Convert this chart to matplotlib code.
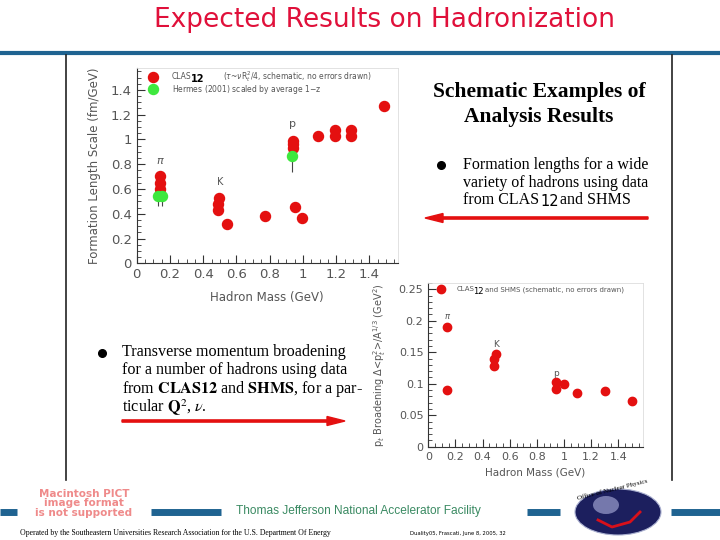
import matplotlib
matplotlib.use('Agg')
import matplotlib.pyplot as plt
from matplotlib.patches import Ellipse, FancyArrow

# --- formation length plot (top left) ---
clas_mass = [0.14, 0.14, 0.14, 0.14, 0.497, 0.49, 0.49, 0.546, 0.774, 0.952, 0.994,
             0.94, 0.94, 0.94, 1.09, 1.19, 1.19, 1.29, 1.29, 1.49]
clas_len = [0.705, 0.651, 0.603, 0.56, 0.53, 0.479, 0.43, 0.315, 0.382, 0.457, 0.364,
            0.99, 0.96, 0.934, 1.028, 1.08, 1.028, 1.08, 1.028, 1.27]
hermes_mass = [0.13, 0.15, 0.934]
hermes_len = [0.546, 0.546, 0.869]
hermes_err = [0.08, 0.08, 0.13]

# --- pt broadening plot (bottom right) ---
pt_mass = [0.14, 0.14, 0.499, 0.486, 0.486, 0.941, 0.941, 1.002, 1.098, 1.302, 1.501]
pt_broad = [0.19, 0.09, 0.147, 0.139, 0.128, 0.103, 0.0916, 0.0995, 0.0847, 0.0884, 0.0725]

mass_ticks = [0, 0.2, 0.4, 0.6, 0.8, 1.0, 1.2, 1.4]
mass_ticklabels = ['0', '0.2', '0.4', '0.6', '0.8', '1', '1.2', '1.4']
len_ticks = [0, 0.2, 0.4, 0.6, 0.8, 1.0, 1.2, 1.4]
len_ticklabels = ['0', '0.2', '0.4', '0.6', '0.8', '1', '1.2', '1.4']
pt_ticks = [0, 0.05, 0.1, 0.15, 0.2, 0.25]
pt_ticklabels = ['0', '0.05', '0.1', '0.15', '0.2', '0.25']

RED = '#e41010'
GREEN = '#3ee83e'
GREY = '#555555'
BLUE = '#1f6391'

W, H = 720, 540
fig = plt.figure(figsize=(7.2, 5.4), dpi=100)

# slide background drawn in pixel coordinates
bg = fig.add_axes([0, 0, 1, 1], zorder=0)
bg.set_xlim(0, W)
bg.set_ylim(H, 0)
bg.axis('off')

bg.text(385, 20, 'Expected Results on Hadronization', color='#e0103a',
        fontsize=19, ha='center', va='center', family='DejaVu Sans')
bg.plot([0, W], [53, 53], color=BLUE, lw=3, solid_capstyle='butt')
bg.plot([66, 66], [55, 480], color='#222222', lw=1.2)
bg.plot([672, 672], [55, 480], color='#222222', lw=1.2)

# right hand text block
bg.text(539, 92, 'Schematic Examples of', family='Liberation Serif', weight='bold',
        fontsize=15.5, ha='center', va='center')
bg.text(539, 117, 'Analysis Results', family='Liberation Serif', weight='bold',
        fontsize=15.5, ha='center', va='center')
bg.plot(441, 165, 'o', color='black', ms=5.5)
bg.text(463, 165, 'Formation lengths for a wide', family='Liberation Serif',
        fontsize=11.5, va='center')
bg.text(463, 183, 'variety of hadrons using data', family='Liberation Serif',
        fontsize=11.5, va='center')
bg.text(463, 200, 'from CLAS', family='Liberation Serif', fontsize=11.5, va='center')
bg.text(540, 201, '12', family='DejaVu Sans', fontsize=10.5, va='center')
bg.text(560, 200, 'and SHMS', family='Liberation Serif', fontsize=11.5, va='center')
bg.add_patch(FancyArrow(648, 218, -205, 0, width=2.2, head_width=9, head_length=18,
                        color=RED, length_includes_head=False))

# lower left text block
bg.plot(102, 353, 'o', color='black', ms=5.5)
lines = ['Transverse momentum broadening',
         'for a number of hadrons using data',
         r'from $\mathbf{CLAS12}$ and $\mathbf{SHMS}$, for a par-',
         r'ticular $\mathbf{Q}^2$, $\nu$.']
for i, ln in enumerate(lines):
    bg.text(122, 352 + i * 18.5, ln, family='Liberation Serif', fontsize=11.6,
            va='center', math_fontfamily='stix')
bg.add_patch(FancyArrow(122, 421, 205, 0, width=2.2, head_width=9, head_length=18,
                        color=RED, length_includes_head=False))

# footer
for x0, x1 in [(0, 17), (151, 221), (527, 560), (671, 720)]:
    bg.plot([x0, x1], [512, 512], color=BLUE, lw=5, solid_capstyle='butt')
for k, t in enumerate(['Macintosh PICT', 'image format', 'is not supported']):
    bg.text(84, 494 + k * 9.5, t, color='#ef8a8a', fontsize=7.5, weight='bold',
            ha='center', va='center', family='DejaVu Sans')
bg.text(358, 511, 'Thomas Jefferson National Accelerator Facility', color='#3a8a62',
        fontsize=8.6, ha='center', va='center', family='Liberation Sans')
bg.text(20, 533, 'Operated by the Southeastern Universities Research Association for the U.S. Department Of Energy',
        family='Liberation Serif', fontsize=5.6, va='center')
bg.text(410, 533, 'Duality05, Frascati, June 8, 2005, 32', family='DejaVu Sans',
        fontsize=3.8, va='center')
bg.add_patch(Ellipse((618, 512), 86, 46, facecolor='#1c1f5e', edgecolor='#aab0d0', lw=0.8))
bg.add_patch(Ellipse((606, 505), 26, 18, facecolor='#8c8fc0', edgecolor='none', alpha=0.8))
bg.plot([598, 612, 630, 640], [520, 527, 522, 512], color='#d8101a', lw=2)
bg.text(612, 490, 'Office of Nuclear Physics', fontsize=5, ha='center', va='center',
        rotation=14, family='Liberation Serif')

# formation length axes
ax1 = fig.add_axes([136.7 / W, 1 - 263.3 / H, 261 / W, 195.3 / H], zorder=2)
ax1.errorbar(hermes_mass, hermes_len, yerr=hermes_err, fmt='none', ecolor='#444444',
             elinewidth=0.8, zorder=2)
ax1.scatter(clas_mass, clas_len, s=52, color=RED, zorder=3)
ax1.scatter(hermes_mass, hermes_len, s=52, color=GREEN, zorder=4)
ax1.set_xlim(0, 1.57)
ax1.set_ylim(0, 1.577)
ax1.set_xticks(mass_ticks, mass_ticklabels)
ax1.set_yticks(len_ticks, len_ticklabels)
ax1.set_xlabel('Hadron Mass (GeV)', color=GREY, fontsize=8.5, labelpad=7)
ax1.set_ylabel('Formation Length Scale (fm/GeV)', color=GREY, fontsize=8.5, labelpad=7)
ax1.text(0.14, 0.8, r'$\pi$', color=GREY, fontsize=8, ha='center')
ax1.text(0.5, 0.63, 'K', color=GREY, fontsize=7, ha='center')
ax1.text(0.94, 1.1, 'p', color=GREY, fontsize=8, ha='center')
ax1.scatter([0.1], [1.506], s=52, color=RED)
ax1.scatter([0.1], [1.405], s=52, color=GREEN)
ax1.text(0.21, 1.506, 'CLAS', color=GREY, fontsize=5.5, va='center')
ax1.text(0.325, 1.49, '12', color='black', fontsize=7, weight='bold', va='center')
ax1.text(0.52, 1.506, r'($\tau$~$\nu$R$_t^2$/4, schematic, no errors drawn)', color=GREY,
         fontsize=5.5, va='center')
ax1.text(0.21, 1.405, 'Hermes (2001) scaled by average 1$-$z', color=GREY,
         fontsize=5.5, va='center')

# pt broadening axes
ax2 = fig.add_axes([428.3 / W, 1 - 446.7 / H, 214.4 / W, 163.7 / H], zorder=2)
ax2.scatter(pt_mass, pt_broad, s=36, color=RED, zorder=3)
ax2.set_xlim(0, 1.58)
ax2.set_ylim(0, 0.26)
ax2.set_xticks(mass_ticks, mass_ticklabels)
ax2.set_yticks(pt_ticks, pt_ticklabels)
ax2.set_xlabel('Hadron Mass (GeV)', color=GREY, fontsize=7.5, labelpad=4)
ax2.set_ylabel(r'p$_t$ Broadening $\Delta$<p$_t^2$>/A$^{1/3}$ (GeV$^2$)', color=GREY,
               fontsize=7, labelpad=8)
ax2.text(0.14, 0.203, r'$\pi$', color=GREY, fontsize=6, ha='center')
ax2.text(0.5, 0.159, 'K', color=GREY, fontsize=6.5, ha='center')
ax2.text(0.94, 0.113, 'p', color=GREY, fontsize=6.5, ha='center')
ax2.scatter([0.091], [0.25], s=36, color=RED)
ax2.text(0.21, 0.25, 'CLAS', color=GREY, fontsize=5, va='center')
ax2.text(0.33, 0.247, '12', color='black', fontsize=6, va='center')
ax2.text(0.42, 0.25, 'and SHMS (schematic, no errors drawn)', color=GREY,
         fontsize=5, va='center')

for ax, minor_y, fs in [(ax1, 0.05, 9.5), (ax2, 0.01, 8)]:
    ax.set_facecolor('white')
    ax.xaxis.set_minor_locator(plt.MultipleLocator(0.05))
    ax.yaxis.set_minor_locator(plt.MultipleLocator(minor_y))
    ax.tick_params(which='major', direction='in', length=6, width=0.8, color='#333333',
                   labelcolor=GREY, labelsize=fs, top=False, right=False)
    ax.tick_params(which='minor', direction='in', length=3, width=0.6, color='#333333',
                   top=False, right=False)
    for side in ['left', 'bottom']:
        ax.spines[side].set_color('#333333')
        ax.spines[side].set_linewidth(0.8)
    for side in ['top', 'right']:
        ax.spines[side].set_color('#dddddd')
        ax.spines[side].set_linewidth(0.6)

plt.savefig('out.png', dpi=100)
